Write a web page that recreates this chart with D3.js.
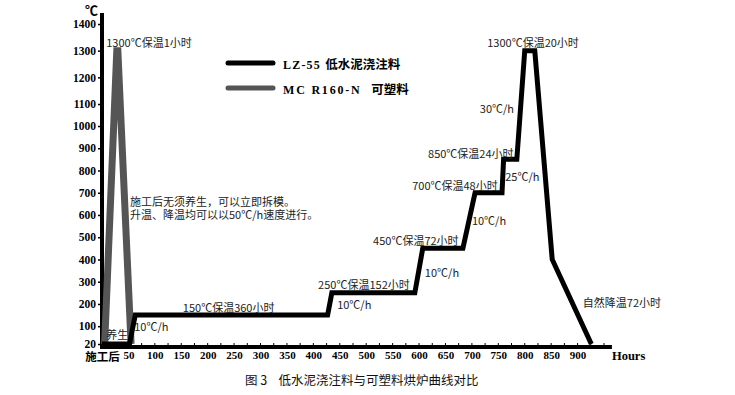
<!DOCTYPE html>
<html>
<head>
<meta charset="utf-8">
<script src="https://cdn.jsdelivr.net/npm/d3@7"></script>
<style>
  body { margin: 0; background: #fff; }
  svg { display: block; }
</style>
</head>
<body>
<div id="chart"></div>
<script>
// LZ-55 low-cement castable: hours vs temperature
const lzHours = [0, 52, 63, 427, 435, 592, 607, 683, 706, 757, 760, 785, 800, 819, 852, 926];
const lzTemps = [20, 20, 150, 150, 250, 250, 450, 450, 700, 700, 850, 850, 1300, 1300, 400, 20];

// MC R160-N plastic refractory
const mcHours = [5, 28, 30, 55];
const mcTemps = [20, 1300, 1300, 20];

const xTicks = [0, 50, 100, 150, 200, 250, 300, 350, 400, 450, 500, 550, 600, 650, 700, 750, 800, 850, 900];
const xMinor = d3.range(0, 951, 25);
const yTicks = [20, 100, 200, 300, 400, 500, 600, 700, 800, 900, 1000, 1100, 1200, 1300, 1400];

const notes = [
  {text: "1300℃保温1小时", h: 8, t: 1329},
  {text: "施工后无须养生，可以立即拆模。", h: 53, t: 657},
  {text: "升温、降温均可以以50℃/h速度进行。", h: 53, t: 601},
  {text: "养生", h: 8, t: 60},
  {text: "10℃/h", h: 61, t: 96},
  {text: "150℃保温360小时", h: 153, t: 182},
  {text: "250℃保温152小时", h: 409, t: 285},
  {text: "10℃/h", h: 445, t: 195},
  {text: "450℃保温72小时", h: 513, t: 483},
  {text: "10℃/h", h: 611, t: 339},
  {text: "700℃保温48小时", h: 587, t: 730},
  {text: "10℃/h", h: 700, t: 573},
  {text: "25℃/h", h: 763, t: 771},
  {text: "850℃保温24小时", h: 617, t: 874},
  {text: "30℃/h", h: 715, t: 1077},
  {text: "1300℃保温20小时", h: 729, t: 1329},
  {text: "自然降温72小时", h: 910, t: 204}
];

const W = 735, H = 395;
const serif = "'Liberation Serif', 'DejaVu Serif', serif";
const cjk = "'Noto Sans CJK SC', sans-serif";

const svg = d3.select("#chart").append("svg")
  .attr("width", W).attr("height", H);

const x = d3.scaleLinear().domain([0, 950]).range([102, 604]);
// the original y axis is stretched above 1000
const y = d3.scaleLinear().domain([20, 1000, 1100, 1400]).range([344, 126, 104, 24]);

const axisY = y(20) + 3;

// axes
const gy = svg.append("g")
  .attr("transform", `translate(${x(0)},0)`)
  .call(d3.axisLeft(y).tickValues(yTicks).tickFormat(d3.format("d"))
    .tickSize(4).tickSizeOuter(0).tickPadding(2));
gy.select(".domain").remove();
gy.selectAll(".tick line").attr("stroke", "#000").attr("stroke-width", 1.5);
gy.selectAll(".tick text")
  .attr("font-family", serif).attr("font-weight", "bold")
  .attr("font-size", 11.5).attr("fill", "#000");

const gx = svg.append("g")
  .attr("transform", `translate(0,${axisY})`)
  .call(d3.axisBottom(x).tickValues(xTicks).tickSize(0).tickPadding(4)
    .tickFormat(d => d === 0 ? "施工后" : d));
gx.select(".domain").remove();
gx.selectAll(".tick text")
  .attr("font-family", d => d === 0 ? cjk : serif)
  .attr("font-weight", "bold")
  .attr("font-size", d => d === 0 ? 11.5 : 11)
  .attr("fill", "#000");
gx.selectAll(".tick").filter(d => d === 0).select("text").attr("dy", "0.9em");

svg.append("g").selectAll("line").data(xMinor).join("line")
  .attr("x1", d => x(d)).attr("x2", d => x(d))
  .attr("y1", axisY - 4).attr("y2", axisY)
  .attr("stroke", "#000").attr("stroke-width", 1);

svg.append("line")
  .attr("x1", x(0)).attr("x2", x(0))
  .attr("y1", 13).attr("y2", axisY + 2)
  .attr("stroke", "#000").attr("stroke-width", 4);
svg.append("line")
  .attr("x1", x(0) - 2).attr("x2", x(965))
  .attr("y1", axisY).attr("y2", axisY)
  .attr("stroke", "#000").attr("stroke-width", 4);

svg.append("text").attr("x", x(0) - 4).attr("y", 15)
  .attr("text-anchor", "end").attr("font-family", cjk)
  .attr("font-size", 13).attr("font-weight", "bold").text("℃");

svg.append("text").attr("x", x(965)).attr("y", axisY + 13)
  .attr("font-family", serif).attr("font-weight", "bold")
  .attr("font-size", 12.5).text("Hours");

// curves
const line = d3.line().x(d => x(d[0])).y(d => y(d[1]));

svg.append("path")
  .datum(mcHours.map((h, i) => [h, mcTemps[i]]))
  .attr("d", line).attr("fill", "none")
  .attr("stroke", "#555").attr("stroke-width", 7)
  .attr("stroke-linejoin", "miter");

svg.append("path")
  .datum(lzHours.map((h, i) => [h, lzTemps[i]]))
  .attr("d", line).attr("fill", "none")
  .attr("stroke", "#000").attr("stroke-width", 5)
  .attr("stroke-linejoin", "miter");

// legend
const legend = [
  {latin: "LZ-55 ", cn: "低水泥浇注料", color: "#000", w: 5, sp: 1.2},
  {latin: "MC R160-N  ", cn: "可塑料", color: "#555", w: 5, sp: 1.8}
];
const lg = svg.append("g").selectAll("g").data(legend).join("g")
  .attr("transform", (d, i) => `translate(228,${63 + i * 25})`);
lg.append("line").attr("x1", 0).attr("x2", 45)
  .attr("stroke", d => d.color).attr("stroke-width", d => d.w)
  .attr("stroke-linecap", "round");
const lt = lg.append("text").attr("x", 55).attr("dy", "0.35em").attr("font-weight", "bold");
lt.append("tspan").attr("font-family", serif).attr("font-size", 12)
  .attr("letter-spacing", d => d.sp).style("white-space", "pre").text(d => d.latin);
lt.append("tspan").attr("font-family", cjk).attr("font-size", 12.5).text(d => d.cn);

// annotations
svg.append("g").selectAll("text").data(notes).join("text")
  .attr("x", d => x(d.h)).attr("y", d => y(d.t))
  .attr("dy", "0.35em")
  .attr("font-family", cjk).attr("font-size", 11)
  .attr("fill", "#222")
  .text(d => d.text);

// caption
svg.append("text").attr("x", 245).attr("y", 381).attr("dy", "0.35em")
  .attr("font-family", cjk).attr("font-size", 12.5).attr("fill", "#111")
  .style("white-space", "pre")
  .text("图 3    低水泥浇注料与可塑料烘炉曲线对比");
</script>
</body>
</html>
